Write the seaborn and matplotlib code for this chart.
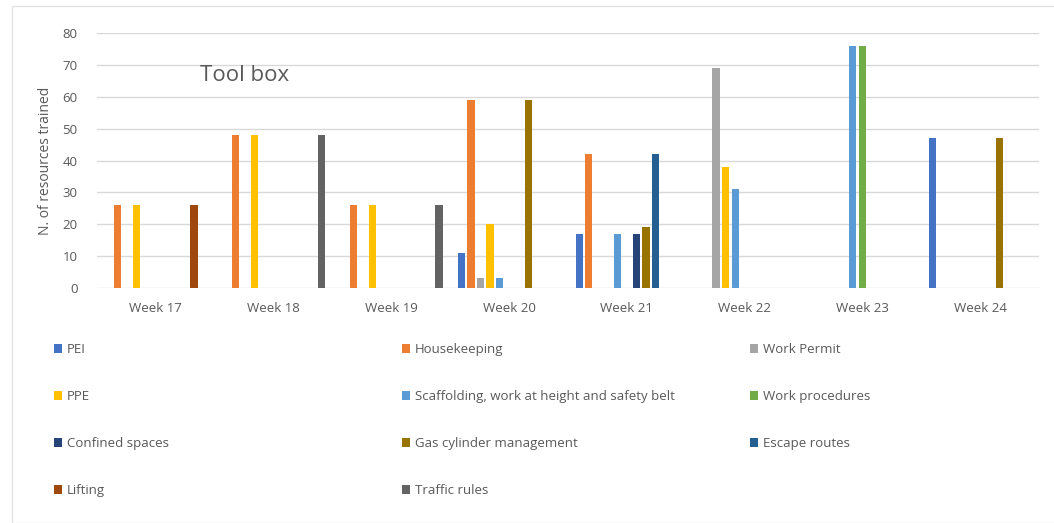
import pandas as pd
import numpy as np
import matplotlib.pyplot as plt
import seaborn as sns
from matplotlib.patches import Patch, Rectangle

# Data
weeks = ['Week 17', 'Week 18', 'Week 19', 'Week 20', 'Week 21', 'Week 22', 'Week 23', 'Week 24']
topics = ['PEI', 'Housekeeping', 'Work Permit', 'PPE',
          'Scaffolding, work at height and safety belt', 'Work procedures',
          'Confined spaces', 'Gas cylinder management', 'Escape routes',
          'Lifting', 'Traffic rules']

pei = [0, 0, 0, 11, 17, 0, 0, 47]
housekeeping = [26, 48, 26, 59, 42, 0, 0, 0]
work_permit = [0, 0, 0, 3, 0, 69, 0, 0]
ppe = [26, 48, 26, 20, 0, 38, 0, 0]
scaffolding = [0, 0, 0, 3, 17, 31, 76, 0]
work_procedures = [0, 0, 0, 0, 0, 0, 76, 0]
confined_spaces = [0, 0, 0, 0, 17, 0, 0, 0]
gas_cylinder = [0, 0, 0, 59, 19, 0, 0, 47]
escape_routes = [0, 0, 0, 0, 42, 0, 0, 0]
lifting = [26, 0, 0, 0, 0, 0, 0, 0]
traffic_rules = [0, 48, 26, 0, 0, 0, 0, 0]

colors = ['#4472C4', '#ED7D31', '#A5A5A5', '#FFC000', '#5B9BD5', '#70AD47',
          '#264478', '#997300', '#255E91', '#9E480E', '#636363']

series = [pei, housekeeping, work_permit, ppe, scaffolding, work_procedures,
          confined_spaces, gas_cylinder, escape_routes, lifting, traffic_rules]

# long format for seaborn
rows = []
for topic, vals in zip(topics, series):
    for w, v in zip(weeks, vals):
        rows.append({'Week': w, 'Topic': topic, 'Trained': v})
df = pd.DataFrame(rows)

sns.set_style('white')
plt.rcParams['font.family'] = ['Open Sans', 'DejaVu Sans']
text_col = '#595959'

fig = plt.figure(figsize=(10.54, 5.23), dpi=100)
ax = fig.add_axes([97 / 1054, 1 - 288 / 523, 942 / 1054, 255 / 523])

sns.barplot(data=df, x='Week', y='Trained', hue='Topic', order=weeks,
            hue_order=topics, palette=colors, saturation=1, width=0.89, gap=0.25,
            linewidth=0, legend=False, ax=ax)

ax.set_ylim(0, 80)
ax.set_yticks(range(0, 81, 10))
ax.set_xlim(-0.5, 7.5)
ax.yaxis.grid(True, color='#d9d9d9', linewidth=1)
ax.set_axisbelow(True)
for s in ['top', 'right', 'left', 'bottom']:
    ax.spines[s].set_visible(False)
ax.tick_params(axis='both', length=0, labelsize=9.5, colors=text_col)
ax.tick_params(axis='y', pad=14)
ax.tick_params(axis='x', pad=10)
ax.set_xlabel('')
ax.set_ylabel('N. of resources trained', fontsize=10, color=text_col, labelpad=7)

fig.text(200 / 1054, 1 - 75 / 523, 'Tool box', fontsize=16, color=text_col, va='center')

# legend: three columns laid out row-wise
handles = [Patch(facecolor=c, edgecolor='none') for c in colors]
col_x = [54, 402, 750]
for i, x in enumerate(col_x):
    leg = fig.legend(handles[i::3], topics[i::3], loc='upper left',
                     bbox_to_anchor=(x / 1054, 1 - 343 / 523), frameon=False,
                     fontsize=9.5, handlelength=0.6, handleheight=0.6,
                     handletextpad=0.4, labelspacing=2.58, borderpad=0,
                     borderaxespad=0)
    for t in leg.get_texts():
        t.set_color(text_col)

# light chart border
fig.patches.append(Rectangle((12 / 1054, 0.0), 1.1, 1 - 6 / 523, transform=fig.transFigure,
                             fill=False, edgecolor='#e3e3e3', linewidth=1))

plt.savefig('out.png', dpi=100)
